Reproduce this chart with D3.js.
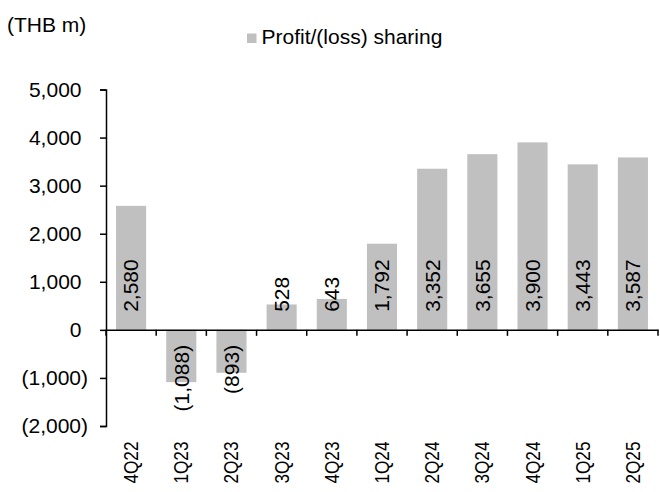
<!DOCTYPE html>
<html>
<head>
<meta charset="utf-8">
<script src="https://cdn.jsdelivr.net/npm/d3@7/dist/d3.min.js"></script>
<style>
  html, body { margin: 0; padding: 0; background: #fff; }
  svg { display: block; font-family: "Liberation Sans", Arial, sans-serif; }
</style>
</head>
<body>
<svg id="chart" width="660" height="492"></svg>
<script>
const categories = ["4Q22","1Q23","2Q23","3Q23","4Q23","1Q24","2Q24","3Q24","4Q24","1Q25","2Q25"];
const profitSharing = [2580, -1088, -893, 528, 643, 1792, 3352, 3655, 3900, 3443, 3587];
const yTicks = [-2000, -1000, 0, 1000, 2000, 3000, 4000, 5000];
const unitLabel = "(THB m)";
const seriesName = "Profit/(loss) sharing";

const svg = d3.select("#chart");
const plotLeft = 106, plotRight = 658, plotTop = 89.5, plotBottom = 426;
const barColor = "#c0c0c0";

const x = d3.scaleBand().domain(categories).range([plotLeft, plotRight]).paddingInner(0.4).paddingOuter(0.2);
const y = d3.scaleLinear().domain([-2000, 5000]).range([plotBottom, plotTop]);

const fmtNum = d3.format(",");
const fmt = v => v < 0 ? "(" + fmtNum(-v) + ")" : fmtNum(v);

// Unit label
svg.append("text").attr("x", 7).attr("y", 32).attr("font-size", 21).attr("fill", "#000").text(unitLabel);

// Legend
svg.append("rect").attr("x", 247).attr("y", 33.5).attr("width", 9.5).attr("height", 9.5).attr("fill", barColor);
svg.append("text").attr("x", 261.5).attr("y", 43.5).attr("font-size", 21).attr("fill", "#000").text(seriesName);

// Bars
svg.append("g").selectAll("rect").data(categories).join("rect")
  .attr("x", (d) => x(d))
  .attr("width", x.bandwidth())
  .attr("y", (d, i) => y(Math.max(0, profitSharing[i])))
  .attr("height", (d, i) => Math.abs(y(profitSharing[i]) - y(0)))
  .attr("fill", barColor);

// Y axis
const yAxis = svg.append("g").attr("transform", `translate(${plotLeft},0)`)
  .call(d3.axisLeft(y).tickValues(yTicks).tickSize(6).tickPadding(12).tickFormat(fmt));
yAxis.select(".domain").attr("stroke", "#000").attr("stroke-width", 1.5);
yAxis.selectAll(".tick line").attr("stroke", "#000").attr("stroke-width", 1.5);
yAxis.selectAll(".tick text")
  .attr("font-size", 21).attr("fill", "#000").attr("font-family", "Liberation Sans, Arial, sans-serif")
  .attr("dx", d => d < 0 ? 0 : -6.5);

// X axis line at zero with boundary ticks
const xAxis = svg.append("g").attr("transform", `translate(0,${y(0)})`)
  .call(d3.axisBottom(x).tickSize(0).tickFormat(""));
xAxis.select(".domain").attr("stroke", "#000").attr("stroke-width", 1.5);
const step = x.step();
const boundaries = categories.map(c => x(c) - step * x.paddingInner() / 2).concat([plotRight]);
xAxis.selectAll(".bound").data(boundaries).join("line")
  .attr("class", "bound")
  .attr("x1", d => d).attr("x2", d => d)
  .attr("y1", 0).attr("y2", 6)
  .attr("stroke", "#000").attr("stroke-width", 1.5);

// Category labels (rotated)
svg.append("g").selectAll("text").data(categories).join("text")
  .attr("transform", d => `translate(${x(d) + x.bandwidth() / 2},441.5) rotate(-90) scale(0.86,1)`)
  .attr("text-anchor", "end")
  .attr("dy", "0.35em")
  .attr("font-size", 20)
  .attr("fill", "#000")
  .text(d => d);

// Value labels
svg.append("g").selectAll("text").data(categories).join("text")
  .attr("transform", (d, i) => {
    const v = profitSharing[i];
    const yy = v < 0 ? y(0) + 15 : y(0) - 18;
    return `translate(${x(d) + x.bandwidth() / 2},${yy}) rotate(-90)`;
  })
  .attr("text-anchor", (d, i) => profitSharing[i] < 0 ? "end" : "start")
  .attr("dy", "0.35em")
  .attr("font-size", 21)
  .attr("fill", "#000")
  .text((d, i) => fmt(profitSharing[i]));
</script>
</body>
</html>
